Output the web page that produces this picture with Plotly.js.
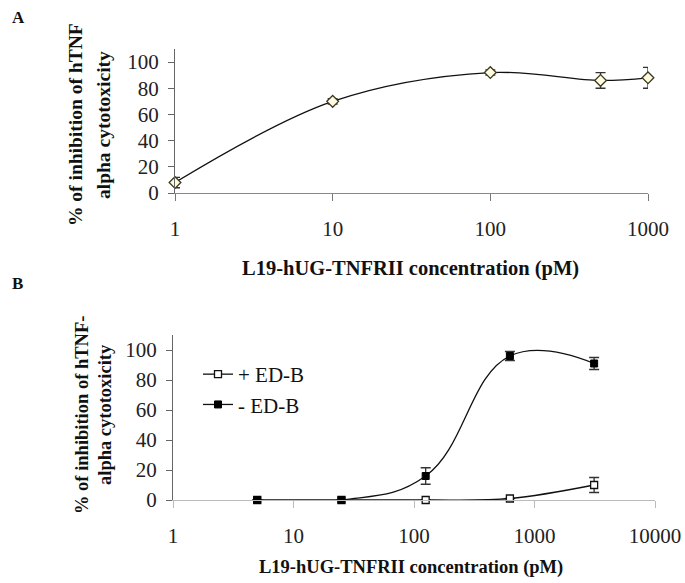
<!DOCTYPE html>
<html>
<head>
<meta charset="utf-8">
<script src="https://cdn.plot.ly/plotly-3.0.1.min.js"></script>
<style>html,body{margin:0;padding:0;background:#fff;}#chart{width:685px;height:583px;}</style>
</head>
<body>
<div id="chart"></div>
<script>
// Panel A data
const concA = [1, 10, 100, 500, 1000];
const inhibA = [8, 70, 92, 86, 88];
const errA = [4, 2, 2, 6, 8];

// Panel B data
const concB = [5, 25, 125, 625, 3125];
const plusEDB = [0, 0, 0, 1, 10];
const plusErr = [0, 0, 0, 0, 5];
const minusEDB = [0, 0, 16, 96, 91];
const minusErr = [0, 0, 5.5, 3, 4];

const seriesNames = ['+ ED-B', '- ED-B'];
const tickValsA = [1, 10, 100, 1000];
const tickValsB = [1, 10, 100, 1000, 10000];
const tickValsY = [0, 20, 40, 60, 80, 100];

const serif = '"Liberation Serif", "Times New Roman", serif';
const W = 685, H = 583;
const px = v => v / W;
const py = v => 1 - v / H;

const traces = [
  {
    x: concA, y: inhibA, xaxis: 'x', yaxis: 'y', type: 'scatter', mode: 'lines+markers', cliponaxis: false,
    line: {color: '#111', width: 1.3, shape: 'spline', smoothing: 1},
    marker: {symbol: 'diamond', size: 9, color: '#fffbe0', line: {color: '#3a3a20', width: 1.3}},
    error_y: {type: 'data', array: errA, visible: true, color: '#333', thickness: 1.3, width: 5},
    showlegend: false
  },
  {
    x: concB, y: plusEDB, xaxis: 'x2', yaxis: 'y2', type: 'scatter', mode: 'lines+markers', cliponaxis: false,
    name: seriesNames[0],
    line: {color: '#111', width: 1.3, shape: 'spline', smoothing: 1},
    marker: {symbol: 'square', size: 7, color: '#ffffff', line: {color: '#111', width: 1.3}},
    error_y: {type: 'data', array: plusErr, visible: true, color: '#333', thickness: 1.3, width: 5}
  },
  {
    x: concB, y: minusEDB, xaxis: 'x2', yaxis: 'y2', type: 'scatter', mode: 'lines+markers', cliponaxis: false,
    name: seriesNames[1],
    line: {color: '#111', width: 1.3, shape: 'spline', smoothing: 1.2},
    marker: {symbol: 'square', size: 7, color: '#000', line: {color: '#000', width: 1}},
    error_y: {type: 'data', array: minusErr, visible: true, color: '#333', thickness: 1.3, width: 5}
  }
];

const tickFont = {family: serif, size: 21, color: '#222'};
const yCommon = {
  range: [0, 110], tickvals: tickValsY, showline: true, linecolor: '#666', linewidth: 1,
  ticks: 'outside', ticklen: 6, tickcolor: '#666', showgrid: false, zeroline: false,
  tickfont: tickFont, ticklabelstandoff: 5, fixedrange: true
};

const bold = (size) => ({family: serif, size: size, weight: 'bold', color: '#111'});

const layout = {
  width: W, height: H, margin: {l: 0, r: 0, t: 0, b: 0},
  paper_bgcolor: '#fff', plot_bgcolor: '#fff',
  showlegend: true,
  legend: {x: px(198), y: py(354), xanchor: 'left', yanchor: 'top', font: {family: serif, size: 21, color: '#111'}, bgcolor: 'rgba(0,0,0,0)', tracegroupgap: 0},
  xaxis: {
    type: 'log', range: [0, 3], domain: [px(175), px(648)], anchor: 'y',
    tickvals: tickValsA, ticktext: tickValsA.map(String), showline: true, linecolor: '#888',
    ticks: 'outside', ticklen: 7, tickcolor: '#777', showgrid: false, zeroline: false,
    tickfont: tickFont, ticklabelstandoff: 10
  },
  yaxis: Object.assign({}, yCommon, {domain: [py(193), py(49)], anchor: 'x'}),
  xaxis2: {
    type: 'log', range: [0, 4], domain: [px(173), px(655)], anchor: 'y2',
    tickvals: tickValsB, ticktext: tickValsB.map(String), showline: true, linecolor: '#bbb',
    ticks: 'outside', ticklen: 7, tickcolor: '#bbb', showgrid: false, zeroline: false,
    tickfont: tickFont, ticklabelstandoff: 10
  },
  yaxis2: Object.assign({}, yCommon, {domain: [py(500), py(335)], anchor: 'x2'}),
  annotations: [
    {text: 'A', x: px(10), y: py(18), xref: 'paper', yref: 'paper', xanchor: 'left', yanchor: 'middle', showarrow: false, font: bold(17)},
    {text: 'B', x: px(10), y: py(283), xref: 'paper', yref: 'paper', xanchor: 'left', yanchor: 'middle', showarrow: false, font: bold(17)},
    {text: '% of inhibition of hTNF', x: px(76), y: py(125), xref: 'paper', yref: 'paper', xanchor: 'center', yanchor: 'middle', textangle: -90, showarrow: false, font: bold(19.5)},
    {text: 'alpha cytotoxicity', x: px(104), y: py(125), xref: 'paper', yref: 'paper', xanchor: 'center', yanchor: 'middle', textangle: -90, showarrow: false, font: bold(19.5)},
    {text: 'L19-hUG-TNFRII concentration (pM)', x: px(410), y: py(269), xref: 'paper', yref: 'paper', xanchor: 'center', yanchor: 'middle', showarrow: false, font: bold(20.5)},
    {text: '% of inhibition of hTNF-', x: px(82), y: py(415), xref: 'paper', yref: 'paper', xanchor: 'center', yanchor: 'middle', textangle: -90, showarrow: false, font: bold(18.5)},
    {text: 'alpha cytotoxicity', x: px(105), y: py(415), xref: 'paper', yref: 'paper', xanchor: 'center', yanchor: 'middle', textangle: -90, showarrow: false, font: bold(18.5)},
    {text: 'L19-hUG-TNFRII concentration (pM)', x: px(411), y: py(567), xref: 'paper', yref: 'paper', xanchor: 'center', yanchor: 'middle', showarrow: false, font: bold(18.5)}
  ]
};

Plotly.newPlot('chart', traces, layout, {staticPlot: true, displayModeBar: false});
</script>
</body>
</html>
